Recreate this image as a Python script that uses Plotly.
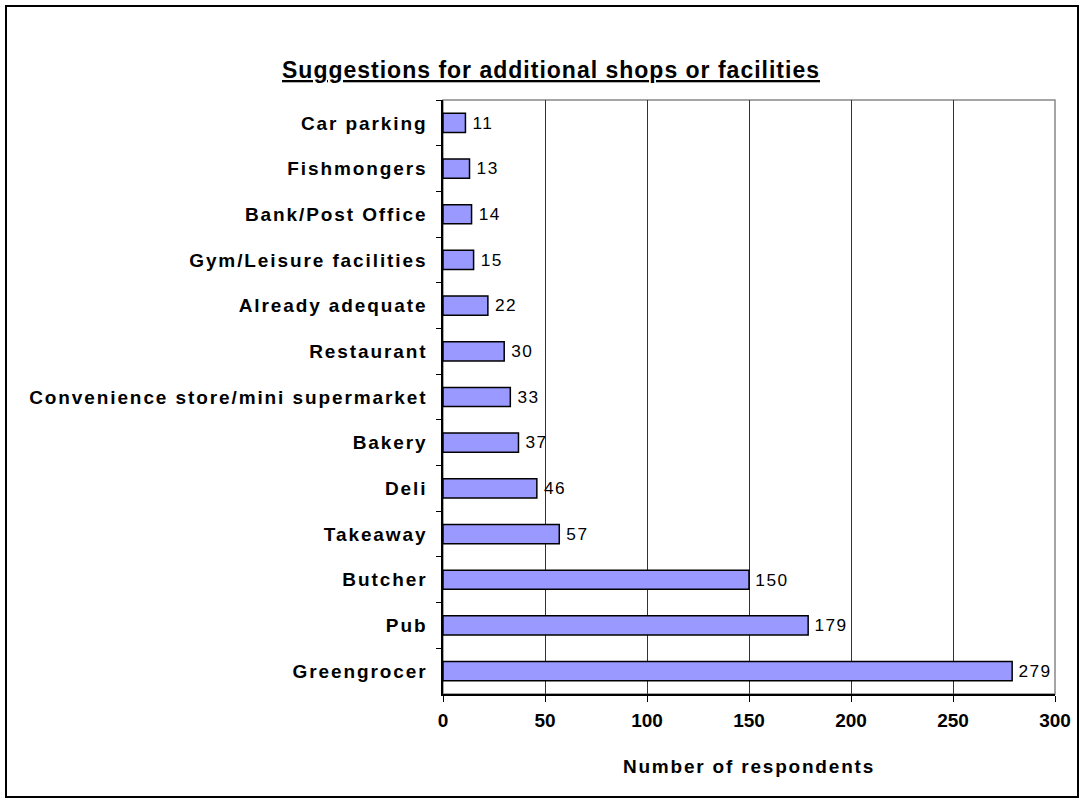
import plotly.graph_objects as go

categories = ["Car parking", "Fishmongers", "Bank/Post Office", "Gym/Leisure facilities",
              "Already adequate", "Restaurant", "Convenience store/mini supermarket",
              "Bakery", "Deli", "Takeaway", "Butcher", "Pub", "Greengrocer"]
values = [11, 13, 14, 15, 22, 30, 33, 37, 46, 57, 150, 179, 279]
x_ticks = [0, 50, 100, 150, 200, 250, 300]
title_text = "Suggestions for additional shops or facilities"
x_title = "Number of respondents"

W, H = 1083, 803
L, R, T, B = 443, 1055, 100, 694
pw, ph = R - L, B - T
FONT = "Liberation Sans, Arial, sans-serif"

def px(x):
    return (x - L) / pw

def py(y):
    return (B - y) / ph

fig = go.Figure()
fig.add_trace(go.Bar(
    y=categories, x=values, orientation="h",
    marker=dict(color="#9999FF", line=dict(color="black", width=1.5)),
    text=[str(v) for v in values], texttemplate=" %{text}", textposition="outside",
    textfont=dict(family=FONT, size=18, color="black"),
    cliponaxis=False, width=0.42,
))

fig.update_layout(
    width=W, height=H,
    margin=dict(l=L, r=W - R, t=T, b=H - B),
    plot_bgcolor="white", paper_bgcolor="white",
    showlegend=False,
    font=dict(family=FONT, size=18, color="black"),
    xaxis=dict(range=[0, 300], tickvals=x_ticks, showgrid=True, gridcolor="#333333", gridwidth=1,
               showline=True, linecolor="black", linewidth=1.5, ticks="outside", ticklen=6,
               tickcolor="black", tickfont=dict(size=19, family=FONT, weight="bold"),
               zeroline=False, ticklabelstandoff=2,
               title=dict(text=x_title, font=dict(size=19, family=FONT, weight="bold"), standoff=30)),
    yaxis=dict(autorange="reversed", showline=True, linecolor="black", linewidth=1.5,
               ticks="outside", ticklen=5, tickcolor="black", tickson="boundaries",
               tickfont=dict(size=19, family=FONT, weight="bold"), ticklabelstandoff=10,
               showgrid=False),
    shapes=[
        dict(type="rect", xref="paper", yref="paper", x0=0, x1=1, y0=0, y1=1,
             line=dict(color="#888888", width=1.5), layer="below"),
        dict(type="rect", xref="paper", yref="paper", x0=px(6), x1=px(1078), y0=py(797), y1=py(6),
             line=dict(color="black", width=2)),
    ],
    annotations=[
        dict(text="<u>" + title_text + "</u>", xref="paper", yref="paper",
             x=px(551), y=py(70), showarrow=False, font=dict(size=23, family=FONT, weight="bold"),
             xanchor="center", yanchor="middle"),
    ],
)

post = (
    "document.body.style.margin='0';document.body.style.overflow='hidden';"
    "var s=document.createElement('style');"
    "s.textContent='.ytick text{letter-spacing:1.9px} .xtitle{letter-spacing:1.8px} "
    ".annotation-text{letter-spacing:1px} .bartext{letter-spacing:1.5px}';"
    "document.head.appendChild(s);"
)
fig.write_html("out.html", post_script=post, config={"displayModeBar": False})
